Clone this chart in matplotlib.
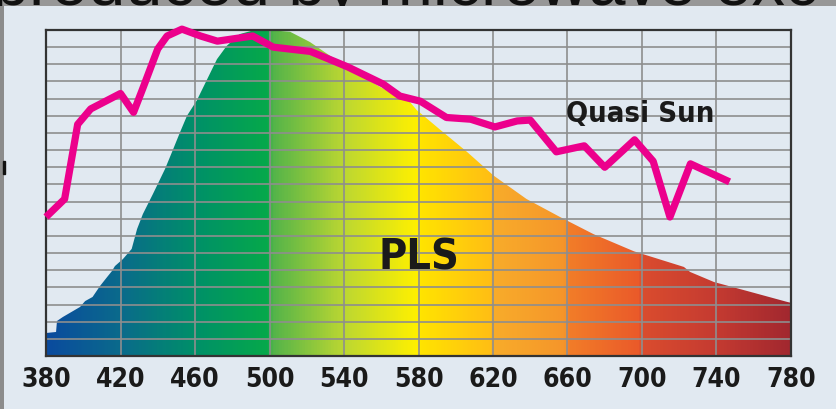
import matplotlib.pyplot as plt
import numpy as np
from matplotlib.colors import LinearSegmentedColormap

# PLS lamp spectrum (relative units, one unit = one grid row)
pls_nm = [380, 385.4, 385.9, 389, 398.3, 401, 405, 409, 412.8, 415.4, 417, 421.3,
          426, 428.9, 432, 437.4, 443.9, 447.7, 452, 455.7, 461, 466.4, 471.8, 477,
          484, 492, 498.7, 511, 521.7, 532.5, 539.5, 559, 575.4, 579, 591.5, 606,
          620.5, 638, 656, 674, 695.7, 722.5, 725.8, 738.7, 756.4, 778, 780]
pls_val = [1.34, 1.40, 2.04, 2.27, 2.86, 3.2, 3.44, 4.08, 4.6, 4.95, 5.24, 5.65,
           6.24, 7.4, 8.27, 9.44, 10.9, 11.9, 13.05, 14.0, 14.9, 16.1, 17.3, 18.07,
           18.76, 19.0, 19.0, 18.9, 18.3, 17.5, 17.0, 15.7, 14.8, 14.34, 13.2, 11.9,
           10.5, 9.15, 8.1, 7.1, 6.1, 5.19, 4.9, 4.31, 3.79, 3.15, 3.1]

# "Quasi Sun" curve
sun_nm = [380, 390, 397, 404, 420, 427, 432, 440, 445, 453, 463, 472, 491, 502, 522,
          542, 561, 570, 581, 595, 608, 621, 633, 640, 654, 669, 680, 696, 706, 715,
          726, 747]
sun_val = [8.1, 9.15, 13.5, 14.4, 15.3, 14.2, 15.6, 17.9, 18.65, 19.05, 18.65, 18.35,
           18.65, 18.0, 17.75, 16.85, 15.85, 15.15, 14.85, 13.9, 13.8, 13.35, 13.7,
           13.75, 11.9, 12.25, 11.0, 12.6, 11.35, 8.1, 11.2, 10.15]

x_ticks = [380, 420, 460, 500, 540, 580, 620, 660, 700, 740, 780]

# spectrum colour stops (wavelength, colour)
stop_nm = [380, 420, 460, 499, 501, 540, 579, 581, 619, 621, 659, 661, 699, 701, 740, 780]
stop_col = ['#0b4b9e', '#0a6b8b', '#009068', '#06a94a', '#52b34a', '#bcd732', '#fff000',
            '#ffe400', '#ffbe14', '#f8ac2a', '#f5952a', '#f27d28', '#ea5a2a', '#da4c2e',
            '#c53b31', '#a2282f']

bg = '#e1e9f1'
magenta = '#ec008c'
narrow = dict(family='DejaVu Sans', fontstretch='condensed', fontweight='bold')

fig = plt.figure(figsize=(8.37, 4.10), dpi=100, facecolor=bg)

# clipped caption strip at the top and gray edge at the left
band = fig.add_axes([0, 403 / 410, 1, 7 / 410])
band.set_facecolor('#979797')
band.set_xticks([])
band.set_yticks([])
for s in band.spines.values():
    s.set_visible(False)
band.text(-0.01, 0.3, 'produced by microwave exc', transform=band.transAxes,
          fontsize=48, family='Liberation Sans', color='#111111', va='baseline',
          ha='left', clip_on=True)

edge = fig.add_axes([0, 0, 4 / 837, 403 / 410])
edge.set_facecolor('#8c8c8c')
edge.set_xticks([])
edge.set_yticks([])
for s in edge.spines.values():
    s.set_visible(False)
fig.patches.append(plt.Rectangle((3.5 / 837, 1 - 175 / 410), 1.2 / 837, 13 / 410,
                                 transform=fig.transFigure, color='#111111'))

ax = fig.add_axes([46 / 837, 53 / 410, 745 / 837, 326 / 410])
ax.set_facecolor(bg)
ax.set_xlim(380, 780)
ax.set_ylim(0, 19)

# gradient fill under the PLS spectrum
frac = [(v - 380) / 400 for v in stop_nm]
cmap = LinearSegmentedColormap.from_list('spec', list(zip(frac, stop_col)))
grad = np.linspace(380, 780, 800).reshape(1, -1)
im = ax.imshow(grad, extent=[380, 780, 0, 19], aspect='auto', cmap=cmap,
               vmin=380, vmax=780, zorder=0.8, interpolation='bilinear')
poly = ax.fill_between(pls_nm, pls_val, 0, color='none', linewidth=0)
im.set_clip_path(poly.get_paths()[0], ax.transData)

ax.plot(sun_nm, sun_val, color=magenta, linewidth=5.2, zorder=3, clip_on=False,
        solid_joinstyle='round', solid_capstyle='butt')

ax.set_xticks(x_ticks)
ax.set_xticklabels([str(t) for t in x_ticks], fontsize=19, color='#1a1a1a', **narrow)
ax.set_yticks(range(0, 20))
ax.set_yticklabels([])
ax.tick_params(length=0, pad=7)
ax.set_axisbelow('line')
ax.grid(True, color='#8e8e8e', linewidth=1.2)
for s in ax.spines.values():
    s.set_color('#333333')
    s.set_linewidth(1.6)

ax.text(699, 14.15, 'Quasi Sun', fontsize=21, color='#1a1a1a', ha='center',
        va='center', zorder=4, **narrow)
ax.text(580, 5.8, 'PLS', fontsize=31, color='#1a1a1a', ha='center',
        va='center', zorder=4, **narrow)

fig.savefig('out.png', dpi=100, facecolor=bg)
